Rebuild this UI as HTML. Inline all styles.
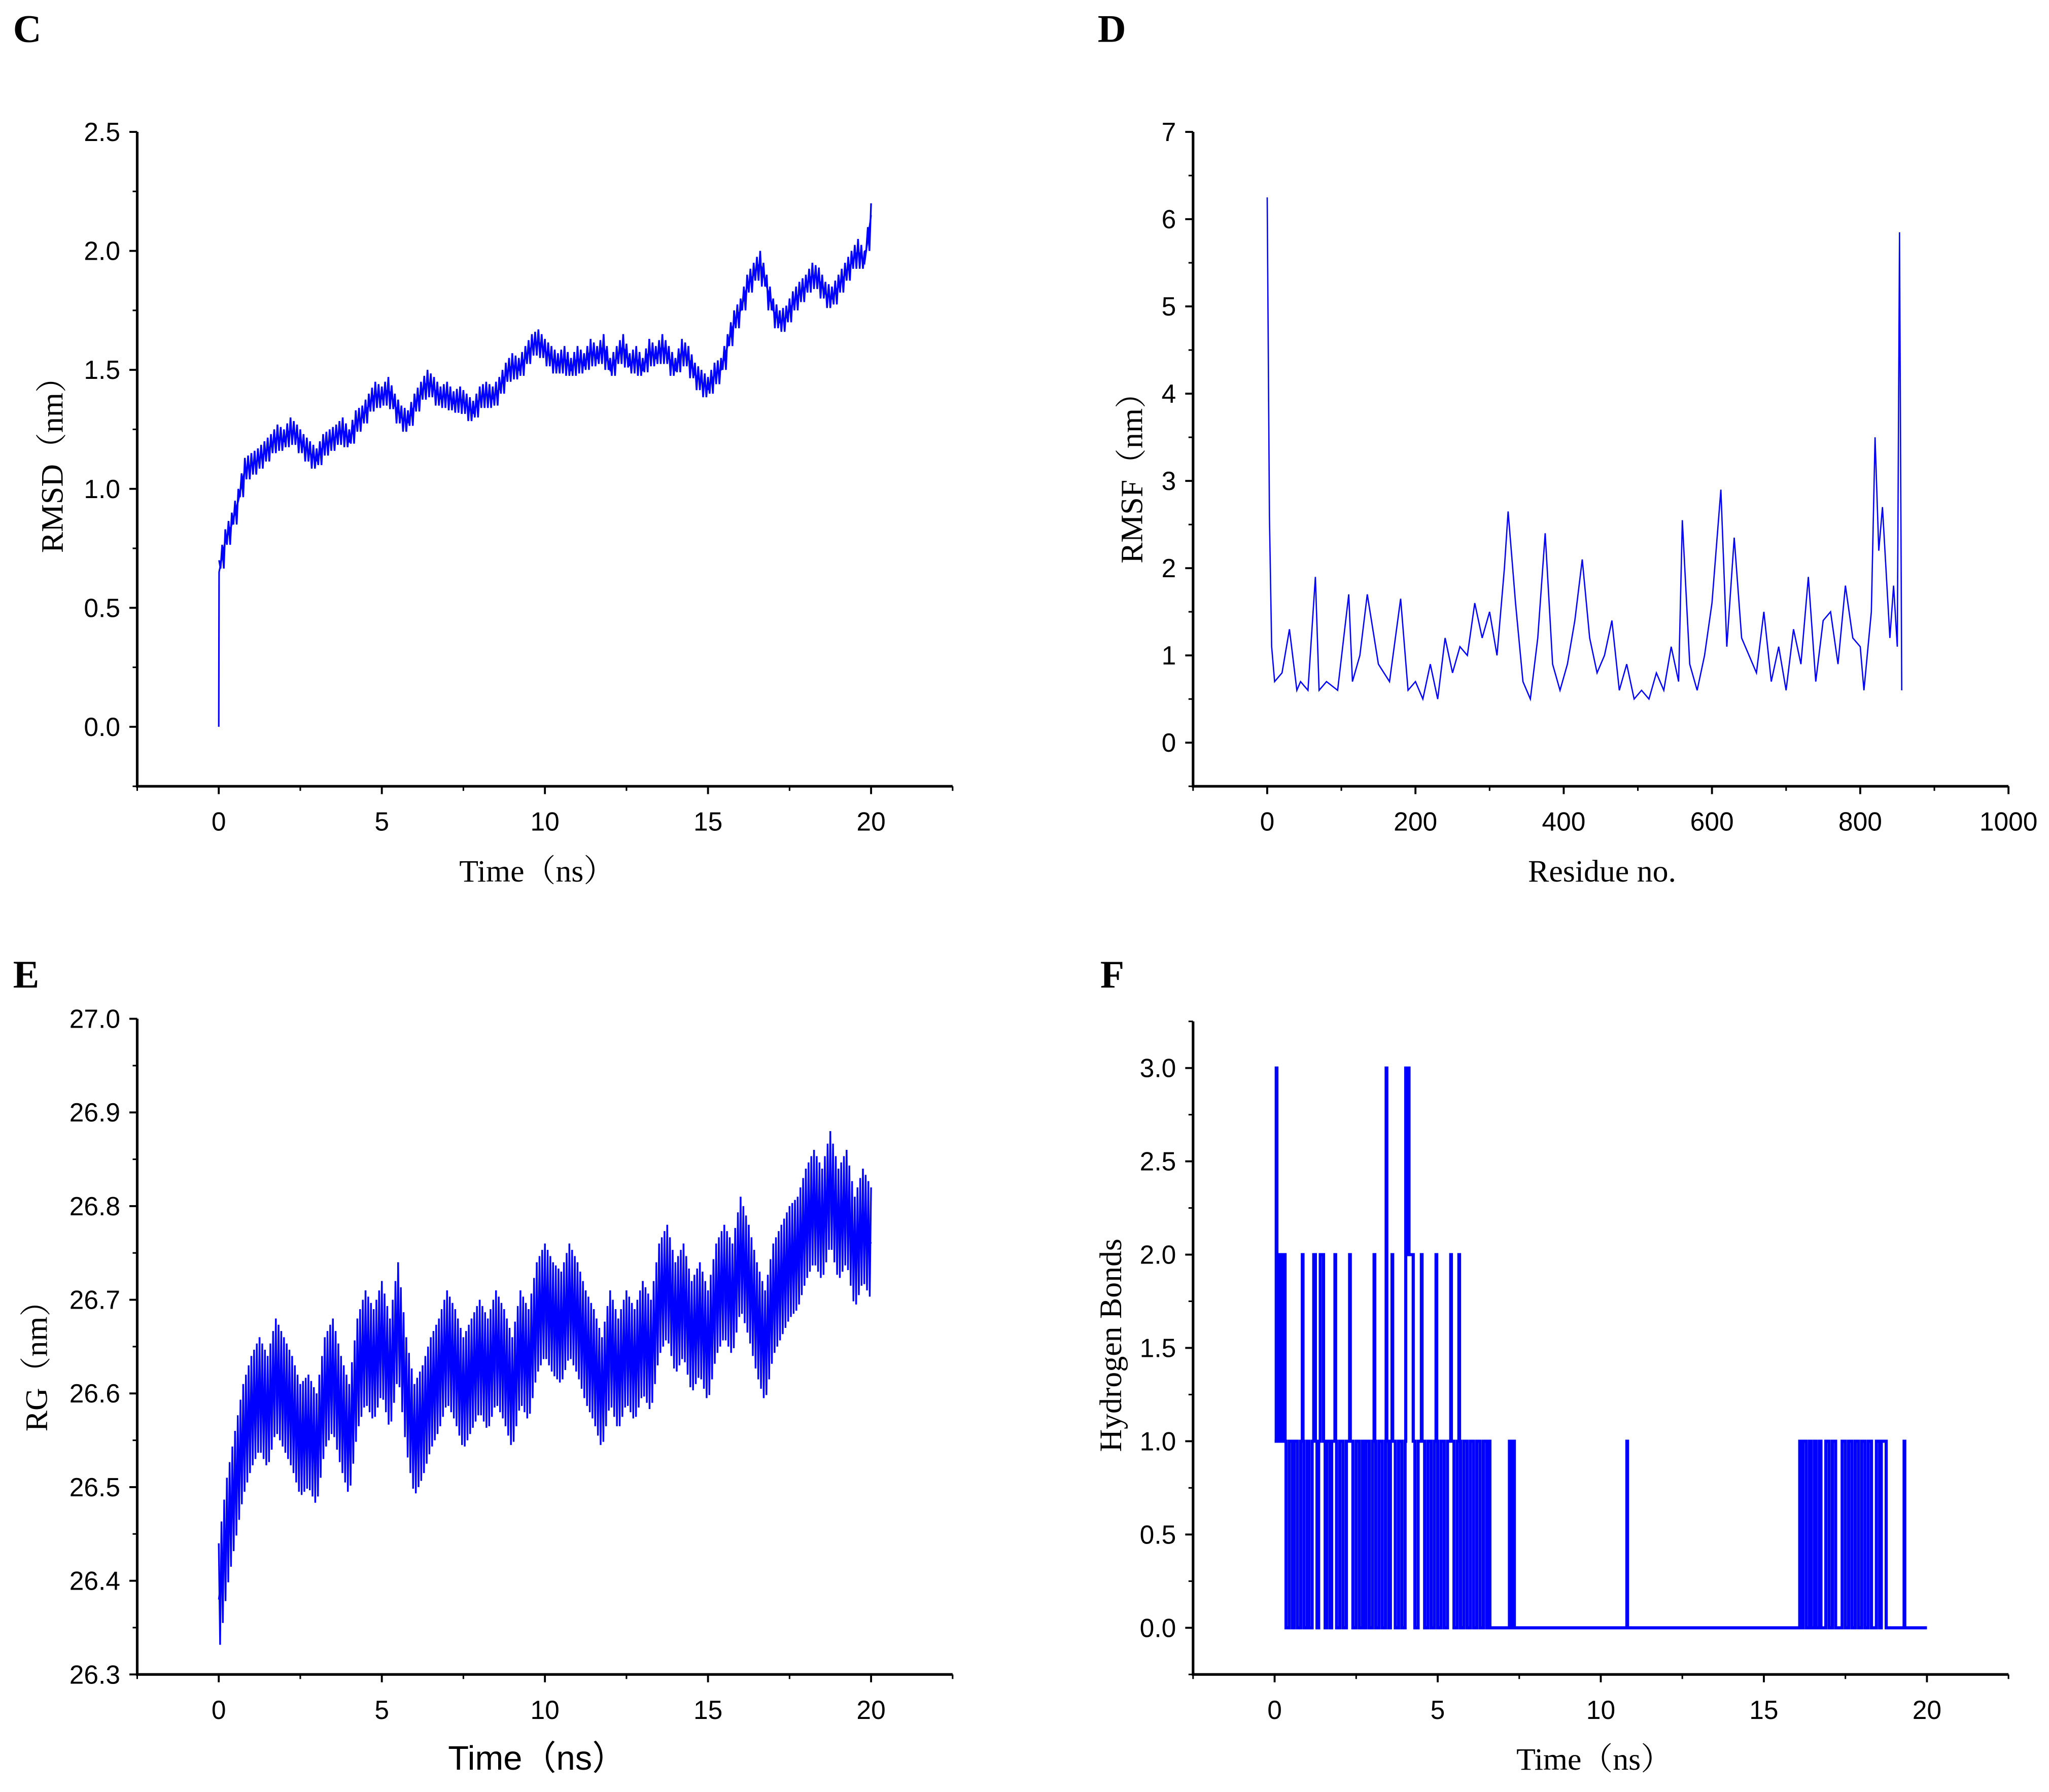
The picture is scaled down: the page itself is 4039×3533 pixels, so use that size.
<!DOCTYPE html>
<html><head><meta charset="utf-8"><style>
html,body{margin:0;padding:0;background:#fff}
svg{display:block}
</style></head><body>
<svg id="fig" width="4039" height="3533" viewBox="0 0 1568 1372" preserveAspectRatio="none" xmlns="http://www.w3.org/2000/svg">
<rect width="1568" height="1372" fill="#fff"/>
</svg>
<script>
// ---- Panel C: RMSD ----
const rmsdTime = [0,0.01,0.2,0.4,0.6,0.8,1.0,1.2,1.4,1.6,1.8,2.0,2.2,2.4,2.6,2.8,3.0,3.2,3.4,3.6,3.8,4.0,4.2,4.4,4.6,4.8,5.0,5.2,5.4,5.6,5.8,6.0,6.2,6.4,6.6,6.8,7.0,7.2,7.4,7.6,7.8,8.0,8.2,8.4,8.6,8.8,9.0,9.2,9.4,9.6,9.8,10.0,10.2,10.4,10.6,10.8,11.0,11.2,11.4,11.6,11.8,12.0,12.2,12.4,12.6,12.8,13.0,13.2,13.4,13.6,13.8,14.0,14.2,14.4,14.6,14.8,15.0,15.2,15.4,15.6,15.8,16.0,16.2,16.4,16.6,16.8,17.0,17.2,17.4,17.6,17.8,18.0,18.2,18.4,18.6,18.8,19.0,19.2,19.4,19.6,19.8,20.0];
const rmsdValue = [0,0.65,0.78,0.85,0.95,1.08,1.10,1.12,1.15,1.18,1.22,1.20,1.25,1.22,1.18,1.15,1.12,1.18,1.20,1.22,1.25,1.20,1.28,1.30,1.35,1.40,1.38,1.42,1.35,1.30,1.28,1.35,1.40,1.45,1.42,1.38,1.40,1.36,1.38,1.35,1.32,1.38,1.40,1.38,1.42,1.48,1.52,1.50,1.55,1.60,1.62,1.58,1.55,1.52,1.55,1.50,1.55,1.52,1.58,1.55,1.60,1.50,1.55,1.60,1.52,1.55,1.50,1.58,1.55,1.60,1.55,1.50,1.58,1.55,1.48,1.45,1.42,1.48,1.50,1.60,1.70,1.75,1.85,1.90,1.95,1.85,1.75,1.70,1.72,1.78,1.82,1.85,1.90,1.88,1.82,1.80,1.85,1.90,1.95,2.00,1.95,2.15];
const rmsdSpread = 0.05;
const rmsdYTicks = ["0.0","0.5","1.0","1.5","2.0","2.5"];
const timeTicks = ["0","5","10","15","20"];

// ---- Panel D: RMSF ----
const residueNo = [0,3,6,10,20,30,40,45,55,65,70,80,95,110,115,125,135,150,165,180,190,200,210,220,230,240,250,260,270,280,290,300,310,320,325,335,345,355,365,375,385,395,405,415,425,435,445,455,465,475,485,495,505,515,525,535,545,555,560,570,580,590,600,612,620,630,640,650,660,670,680,690,700,710,720,730,740,750,760,770,780,790,800,805,815,820,825,830,840,845,850,853,856];
const rmsfValue = [6.25,2.6,1.1,0.7,0.8,1.3,0.6,0.7,0.6,1.9,0.6,0.7,0.6,1.7,0.7,1.0,1.7,0.9,0.7,1.65,0.6,0.7,0.5,0.9,0.5,1.2,0.8,1.1,1.0,1.6,1.2,1.5,1.0,2.0,2.65,1.6,0.7,0.5,1.2,2.4,0.9,0.6,0.9,1.4,2.1,1.2,0.8,1.0,1.4,0.6,0.9,0.5,0.6,0.5,0.8,0.6,1.1,0.7,2.55,0.9,0.6,1.0,1.6,2.9,1.1,2.35,1.2,1.0,0.8,1.5,0.7,1.1,0.6,1.3,0.9,1.9,0.7,1.4,1.5,0.9,1.8,1.2,1.1,0.6,1.5,3.5,2.2,2.7,1.2,1.8,1.1,5.85,0.6];
const rmsfYTicks = ["0","1","2","3","4","5","6","7"];
const residueTicks = ["0","200","400","600","800","1000"];

// ---- Panel E: RG ----
const rgTime = [0,0.25,0.5,0.75,1,1.25,1.5,1.75,2,2.25,2.5,2.75,3,3.25,3.5,3.75,4,4.25,4.5,4.75,5,5.25,5.5,5.75,6,6.25,6.5,6.75,7,7.25,7.5,7.75,8,8.25,8.5,8.75,9,9.25,9.5,9.75,10,10.25,10.5,10.75,11,11.25,11.5,11.75,12,12.25,12.5,12.75,13,13.25,13.5,13.75,14,14.25,14.5,14.75,15,15.25,15.5,15.75,16,16.25,16.5,16.75,17,17.25,17.5,17.75,18,18.25,18.5,18.75,19,19.25,19.5,19.75,20];
const rgValue = [26.38,26.45,26.5,26.55,26.58,26.6,26.58,26.62,26.6,26.58,26.55,26.56,26.54,26.6,26.62,26.58,26.55,26.62,26.65,26.63,26.66,26.62,26.68,26.6,26.55,26.57,26.6,26.62,26.65,26.63,26.6,26.62,26.64,26.62,26.65,26.63,26.6,26.65,26.63,26.68,26.7,26.68,26.67,26.7,26.68,26.65,26.63,26.6,26.65,26.62,26.65,26.63,26.66,26.64,26.7,26.72,26.68,26.7,26.66,26.68,26.65,26.7,26.72,26.7,26.75,26.72,26.68,26.65,26.7,26.72,26.74,26.75,26.78,26.8,26.78,26.82,26.78,26.8,26.75,26.78,26.76];
const rgSpread = 0.06;
const rgYTicks = ["26.3","26.4","26.5","26.6","26.7","26.8","26.9","27.0"];

// ---- Panel F: Hydrogen bonds ----
const hbTime = [0,0.05,0.07,0.1,0.14,0.18,0.22,0.28,0.32,0.35,0.45,0.55,0.6,0.7,0.8,0.85,0.87,0.9,1.0,1.05,1.15,1.2,1.25,1.3,1.35,1.4,1.5,1.55,1.6,1.7,1.75,1.85,1.87,1.9,2.0,2.1,2.2,2.3,2.32,2.4,2.5,2.6,2.7,2.75,2.8,2.9,3.0,3.05,3.07,3.1,3.2,3.3,3.4,3.42,3.44,3.5,3.55,3.6,3.62,3.7,3.8,3.9,4.0,4.02,4.05,4.1,4.12,4.25,4.3,4.4,4.5,4.52,4.6,4.7,4.8,4.9,4.95,4.97,5.0,5.1,5.2,5.3,5.4,5.42,5.5,5.6,5.65,5.67,5.7,5.8,5.9,6.0,6.1,6.2,6.3,6.4,6.5,6.55,6.6,7.2,7.25,7.3,7.35,10.8,10.82,16.1,16.15,16.2,16.3,16.4,16.45,16.55,16.6,16.7,16.75,16.9,17.0,17.1,17.2,17.4,17.5,17.6,17.7,17.8,17.9,18.0,18.1,18.2,18.3,18.45,18.55,18.6,18.75,19.3,19.32,20];
const hbValue = [1,3,1,2,1,2,1,2,1,0,1,0,1,0,1,2,1,0,1,0,1,2,1,0,1,2,1,0,1,0,1,2,1,0,1,0,1,2,1,0,1,0,1,0,1,0,1,2,1,0,1,0,1,3,1,0,1,2,1,0,1,0,1,3,2,3,2,1,0,1,2,1,0,1,0,1,2,1,0,1,0,1,2,1,0,1,2,1,0,1,0,1,0,1,0,1,0,1,0,1,0,1,0,1,0,1,0,1,0,1,0,1,0,1,0,1,0,1,0,1,0,1,0,1,0,1,0,1,0,1,0,1,0,1,0,0];
const hbYTicks = ["0.0","0.5","1.0","1.5","2.0","2.5","3.0"];

const NS = "http://www.w3.org/2000/svg";
const svg = document.getElementById("fig");
function el(tag, attrs, parent){
  const e = document.createElementNS(NS, tag);
  for (const k in attrs) e.setAttribute(k, attrs[k]);
  (parent||svg).appendChild(e);
  return e;
}
function scale(d0,d1,r0,r1){ return v => r0 + (v-d0)/(d1-d0)*(r1-r0); }

function panel(cfg){
  const g = el("g", {});
  
  
  const sx = scale(cfg.xMin,cfg.xMax,cfg.left,cfg.right);
  const sy = scale(cfg.yMin,cfg.yMax,cfg.bottom,cfg.top);
  const ya = el("line",{x1:cfg.left,y1:cfg.top,x2:cfg.left,y2:cfg.bottom,stroke:"#000","stroke-width":2},g);
  
  
  const xa = el("line",{x1:cfg.left-1,y1:cfg.bottom,x2:cfg.right,y2:cfg.bottom,stroke:"#000","stroke-width":2},g);
  
  
  cfg.yTicks.forEach(t=>{
    const v = parseFloat(t), y = sy(v);
    el("line",{x1:cfg.left-6,y1:y,x2:cfg.left,y2:y,stroke:"#000","stroke-width":1.5},g);
    const lb = el("text",{x:cfg.left-13,y:y+7,"text-anchor":"end","font-family":"Liberation Sans, sans-serif","font-size":20},g);
    
    
    lb.textContent = t;
  });
  for (let v=cfg.yMin; v<=cfg.yMax+1e-9; v+=cfg.yMinor){
    const y = sy(v);
    el("line",{x1:cfg.left-3.5,y1:y,x2:cfg.left,y2:y,stroke:"#000","stroke-width":1.2},g);
  }
  cfg.xTicks.forEach(t=>{
    const v = parseFloat(t), x = sx(v);
    el("line",{x1:x,y1:cfg.bottom,x2:x,y2:cfg.bottom+6,stroke:"#000","stroke-width":1.5},g);
    const lb = el("text",{x:x,y:cfg.bottom+34,"text-anchor":"middle","font-family":"Liberation Sans, sans-serif","font-size":20},g);
    
    
    lb.textContent = t;
  });
  for (let v=cfg.xMin; v<=cfg.xMax+1e-9; v+=cfg.xMinor){
    const x = sx(v);
    el("line",{x1:x,y1:cfg.bottom,x2:x,y2:cfg.bottom+3.5,stroke:"#000","stroke-width":1.2},g);
  }
  const xt = el("text",{x:cfg.xTitleX,y:cfg.bottom+73,"text-anchor":"middle","font-family":cfg.xTitleFont,"font-size":cfg.xTitleSize},g);
  
  
  xt.textContent = cfg.xTitle;
  const yt = el("text",{x:0,y:0,"text-anchor":"middle","font-family":"Liberation Serif, Noto Serif CJK SC, serif","font-size":24,transform:`translate(${cfg.yTitleX},${cfg.yTitleY}) rotate(-90)`},g);
  
  
  yt.textContent = cfg.yTitle;
  const pl = el("text",{x:cfg.letterX,y:cfg.letterY,"font-family":"Liberation Serif, serif","font-size":30,"font-weight":"bold"},g);
  
  
  pl.textContent = cfg.letter;
  return {g,sx,sy};
}

const serifCJK = "Liberation Serif, Noto Serif CJK SC, serif";

{
  const p = panel({name:"rmsd-panel",left:105,right:729,top:101,bottom:602,xMin:-2.5,xMax:22.5,yMin:-0.25,yMax:2.5,
    yTicks:rmsdYTicks,xTicks:timeTicks,yMinor:0.25,xMinor:2.5,xTitle:"Time（ns）",xTitleX:411,xTitleFont:serifCJK,xTitleSize:24,
    yTitle:"RMSD（nm）",yTitleX:48,yTitleY:350,letter:"C",letterX:10,letterY:32});
  let d="";
  rmsdTime.forEach((t,i)=>{ d += (i?"L":"M")+p.sx(t).toFixed(2)+","+p.sy(rmsdValue[i]).toFixed(2); });
  const ln = el("path",{d:d,fill:"none",stroke:"#0000ff","stroke-width":1.2},p.g);
  
  
  for (let i=1;i<rmsdTime.length-1;i++){
    const a = (rmsdTime[i]+rmsdTime[i+1])/2;
    const v = (rmsdValue[i]+rmsdValue[i+1])/2;
    let bd = "M"+p.sx(rmsdTime[i])+","+p.sy(rmsdValue[i]+rmsdSpread)+"L"+p.sx(a-0.05)+","+p.sy(v-rmsdSpread)+"L"+p.sx(a)+","+p.sy(v+rmsdSpread)+"L"+p.sx(a+0.05)+","+p.sy(v-rmsdSpread)+"L"+p.sx(rmsdTime[i+1])+","+p.sy(rmsdValue[i+1]+rmsdSpread);
    const b = el("path",{d:bd,fill:"none",stroke:"#0000ff","stroke-width":1.3},p.g);
    
    
  }
}
{
  const p = panel({name:"rmsf-panel",left:913,right:1537,top:101,bottom:602,xMin:-100,xMax:1000,yMin:-0.5,yMax:7,
    yTicks:rmsfYTicks,xTicks:residueTicks,yMinor:0.5,xMinor:100,xTitle:"Residue no.",xTitleX:1226,xTitleFont:serifCJK,xTitleSize:24,
    yTitle:"RMSF（nm）",yTitleX:874,yTitleY:360,letter:"D",letterX:840,letterY:32});
  let d="";
  const n = Math.min(residueNo.length,rmsfValue.length);
  for (let i=0;i<n;i++) d += (i?"L":"M")+p.sx(residueNo[i]).toFixed(2)+","+p.sy(rmsfValue[i]).toFixed(2);
  const ln = el("path",{d:d,fill:"none",stroke:"#0000ff","stroke-width":1},p.g);
  
  
}
{
  const p = panel({name:"rg-panel",left:105,right:729,top:780,bottom:1282,xMin:-2.5,xMax:22.5,yMin:26.3,yMax:27.0,
    yTicks:rgYTicks,xTicks:timeTicks,yMinor:0.05,xMinor:2.5,xTitle:"Time（ns）",xTitleX:411,xTitleFont:"Liberation Sans, Noto Sans CJK SC, sans-serif",xTitleSize:26,
    yTitle:"RG（nm）",yTitleX:36,yTitleY:1040,letter:"E",letterX:10,letterY:756});
  let d="";
  rgTime.forEach((t,i)=>{ d += (i?"L":"M")+p.sx(t).toFixed(2)+","+p.sy(rgValue[i]).toFixed(2); });
  const ln = el("path",{d:d,fill:"none",stroke:"#0000ff","stroke-width":1.2},p.g);
  
  
  for (let i=0;i<rgTime.length-1;i++){
    const t0=rgTime[i], t1=rgTime[i+1], v0=rgValue[i], v1=rgValue[i+1];
    let bd="";
    for (let k=0;k<=6;k++){
      const t=t0+(t1-t0)*k/6, v=v0+(v1-v0)*k/6 + (k%2?-rgSpread:rgSpread);
      bd += (k?"L":"M")+p.sx(t).toFixed(2)+","+p.sy(v).toFixed(2);
    }
    const b = el("path",{d:bd,fill:"none",stroke:"#0000ff","stroke-width":1.3},p.g);
    
    
  }
}
{
  const p = panel({name:"hbond-panel",left:913,right:1537,top:782,bottom:1282,xMin:-2.5,xMax:22.5,yMin:-0.25,yMax:3.25,
    yTicks:hbYTicks,xTicks:timeTicks,yMinor:0.25,xMinor:2.5,xTitle:"Time（ns）",xTitleX:1220,xTitleFont:serifCJK,xTitleSize:24,
    yTitle:"Hydrogen Bonds",yTitleX:858,yTitleY:1030,letter:"F",letterX:842,letterY:756});
  let d="";
  const n = Math.min(hbTime.length,hbValue.length);
  for (let i=0;i<n;i++){
    const x = p.sx(hbTime[i]).toFixed(2), y = p.sy(hbValue[i]).toFixed(2);
    if (i===0) d += "M"+x+","+y;
    else d += "H"+x+"V"+y;
  }
  const ln = el("path",{d:d,fill:"none",stroke:"#0000ff","stroke-width":2.4},p.g);
  
  
}
</script>
</body></html>
